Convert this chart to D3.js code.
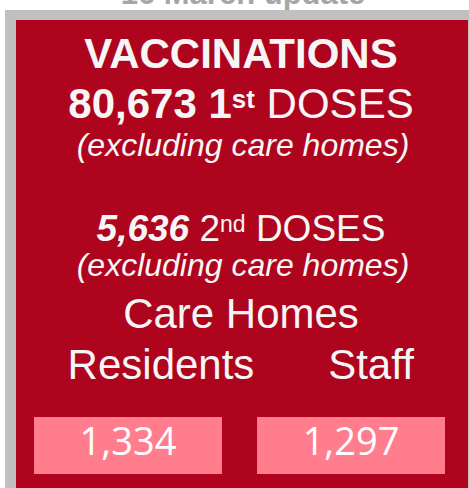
<!DOCTYPE html>
<html>
<head>
<meta charset="utf-8">
<script src="https://cdn.jsdelivr.net/npm/d3@7"></script>
<style>
  body { margin: 0; background: #fff; }
  text { white-space: pre; }
</style>
</head>
<body>
<div id="chart"></div>
<script>
// Headline figures
const updateLabel = "16 March update";
const firstDoses = 80673;
const secondDoses = 5636;
const careGroups = ["Residents", "Staff"];
const careValues = [1334, 1297];

const W = 469, H = 488;
const fmt = d3.format(",");
const red = "#af041e";
const pink = "#ff7d8d";
const white = "#f6f6f6";
const sans = "'Liberation Sans', Arial, sans-serif";

const svg = d3.select("#chart")
  .append("svg")
  .attr("width", W)
  .attr("height", H);

// title peeking above the panel
svg.append("text")
  .attr("x", 243).attr("y", 3.5)
  .attr("text-anchor", "middle")
  .attr("font-family", sans)
  .attr("font-weight", "bold")
  .attr("font-size", 31)
  .attr("fill", "#a6a6a6")
  .text(updateLabel);

// grey frame and red panel
svg.append("rect").attr("x", 5).attr("y", 10).attr("width", W - 5).attr("height", H - 10).attr("fill", "#c0c0c0");
svg.append("rect").attr("x", 16).attr("y", 20).attr("width", 452).attr("height", H - 20).attr("fill", red);

const cx = 241;
const g = svg.append("g").attr("font-family", sans).attr("fill", white).attr("text-anchor", "middle");

g.append("text").attr("x", cx).attr("y", 68)
  .attr("font-size", 42).attr("font-weight", "bold")
  .text("VACCINATIONS");

// 1st doses line
const l1 = g.append("text").attr("x", cx).attr("y", 118).attr("font-size", 42);
l1.append("tspan").attr("font-weight", "bold").text(fmt(firstDoses) + " 1");
l1.append("tspan").attr("font-weight", "bold").attr("font-size", 26).attr("dy", -10).text("st");
l1.append("tspan").attr("dy", 10).text(" DOSES");

g.append("text").attr("x", cx + 2).attr("y", 156)
  .attr("font-size", 32).attr("font-style", "italic")
  .text("(excluding care homes)");

// 2nd doses line
const l2 = g.append("text").attr("x", cx).attr("y", 241).attr("font-size", 37);
l2.append("tspan").attr("font-weight", "bold").attr("font-style", "italic").text(fmt(secondDoses));
l2.append("tspan").text(" 2");
l2.append("tspan").attr("font-size", 23).attr("dy", -9).text("nd");
l2.append("tspan").attr("dy", 9).text(" DOSES");

g.append("text").attr("x", cx + 2).attr("y", 276)
  .attr("font-size", 32).attr("font-style", "italic")
  .text("(excluding care homes)");

g.append("text").attr("x", cx).attr("y", 328)
  .attr("font-size", 42)
  .text("Care Homes");

// group labels
const labelX = { Residents: 161, Staff: 371 };
g.selectAll(".grp")
  .data(careGroups)
  .join("text")
  .attr("class", "grp")
  .attr("x", d => labelX[d])
  .attr("y", 379)
  .attr("font-size", 42)
  .text(d => d);

// value boxes
const x = d3.scaleBand().domain(careGroups).range([34, 445]).paddingInner(0.157);
const boxes = svg.selectAll(".box")
  .data(careGroups.map((k, i) => ({ k, v: careValues[i] })))
  .join("g")
  .attr("class", "box");

boxes.append("rect")
  .attr("x", d => x(d.k))
  .attr("y", 417)
  .attr("width", x.bandwidth())
  .attr("height", 57)
  .attr("fill", pink);

boxes.append("text")
  .attr("x", d => x(d.k) + x.bandwidth() / 2)
  .attr("y", 455)
  .attr("text-anchor", "middle")
  .attr("font-family", "'Open Sans', Lato, sans-serif")
  .attr("font-size", 38)
  .attr("fill", "#fff")
  .text(d => fmt(d.v));
</script>
</body>
</html>
